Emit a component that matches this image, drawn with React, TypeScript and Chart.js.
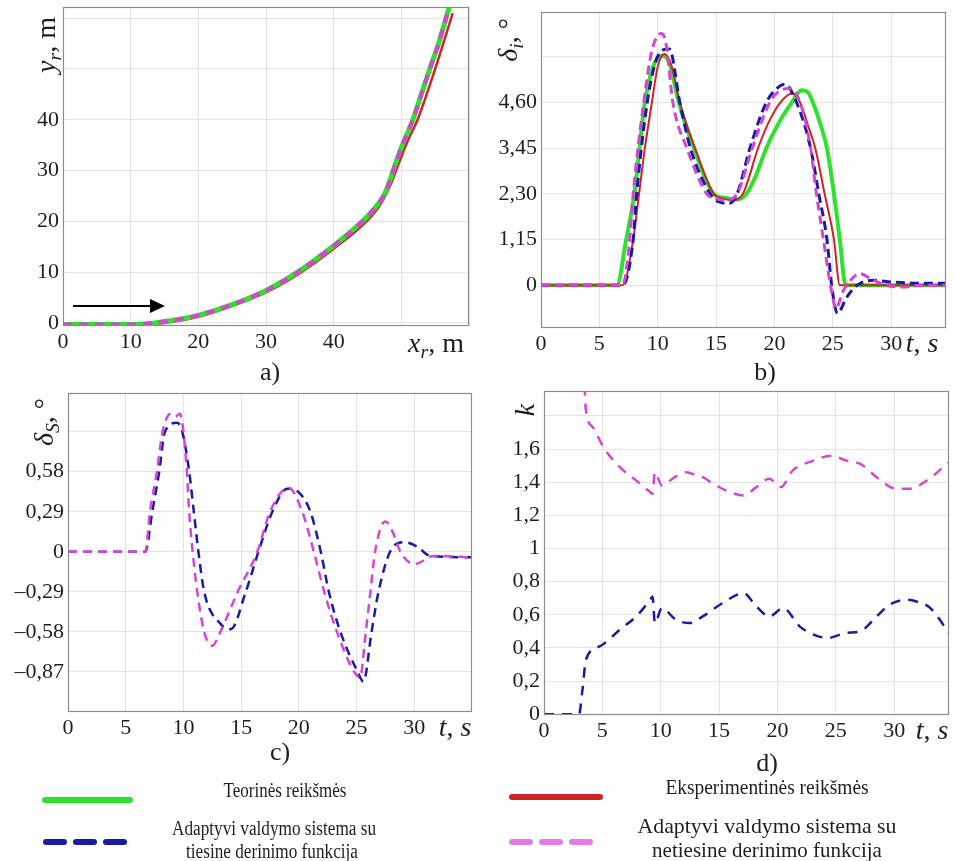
import React, { useEffect, useRef } from 'react';
import { Chart, registerables } from 'chart.js';
Chart.register(...registerables);

type Pt = [number, number];

// ---------- Panel a) trajectory y_r(x_r) ----------
const A_X_TICKS = [0, 10, 20, 30, 40, 50, 60];
const A_X_LABELS = ['0', '10', '20', '30', '40', '', ''];
const A_Y_TICKS = [0, 10, 20, 30, 40, 50, 60];
const A_Y_LABELS = ['0', '10', '20', '30', '40', '', ''];
const A_GREEN: Pt[] = [[0, -0.3], [5, -0.3], [10, -0.3], [13, -0.1], [15, 0.3], [17.5, 0.8], [20, 1.5], [25, 3.6], [30, 6.4], [35, 10.3], [40, 15.2], [43, 18.5], [45, 21], [46.5, 23.3], [47.5, 25.3], [48.3, 28], [49, 30.8], [50, 34.5], [51.7, 40], [53, 45.2], [54.2, 50], [55.5, 55], [56.6, 60], [57.4, 63.5]];
const A_RED: Pt[] = [[0, -0.5], [10, -0.5], [15, 0], [20, 1.2], [25, 3.3], [30, 6.0], [35, 9.8], [40, 14.6], [45, 20.2], [47, 23.5], [48.5, 27.5], [49.5, 31], [51, 36], [52.4, 40], [55, 50], [57.6, 61]];
const A_MAGENTA: Pt[] = [[0, -0.3], [5, -0.3], [10, -0.3], [13, -0.1], [15, 0.3], [17.5, 0.8], [20, 1.5], [25, 3.6], [30, 6.4], [35, 10.3], [40, 15.2], [43, 18.5], [45, 21], [46.5, 23.3], [47.5, 25.3], [48.3, 28], [49, 30.8], [50, 34.5], [51.7, 40], [53, 45.2], [54.2, 50], [55.5, 55], [56.6, 60], [57.4, 63.5]];

// ---------- Panel b) delta_i(t) ----------
const T_TICKS = [0, 5, 10, 15, 20, 25, 30];
const T_LABELS = ['0', '5', '10', '15', '20', '25', '30'];
const B_Y_TICKS = [0, 1.15, 2.3, 3.45, 4.6, 5.75];
const B_Y_LABELS = ['0', '1,15', '2,30', '3,45', '4,60', ''];
const B_GREEN: Pt[] = [[0, 0], [6.5, 0], [7.3, 1.15], [8.0, 2.3], [8.9, 4.6], [9.6, 5.5], [10.3, 5.78], [11.0, 5.6], [11.8, 4.6], [13.1, 3.45], [14.8, 2.3], [15.8, 2.2], [16.8, 2.16], [17.6, 2.3], [18.4, 2.75], [19.3, 3.45], [20.4, 4.1], [21.5, 4.6], [22.3, 4.91], [22.9, 4.85], [23.3, 4.6], [24.0, 4.0], [24.5, 3.45], [25.1, 2.3], [25.6, 1.15], [26.1, 0], [35, 0]];
const B_RED: Pt[] = [[0, 0], [7.0, 0], [7.9, 1.15], [8.4, 2.3], [8.9, 3.45], [9.5, 4.6], [10.0, 5.5], [10.6, 5.82], [11.2, 5.5], [11.9, 4.6], [13.2, 3.45], [14.8, 2.3], [15.6, 2.18], [16.5, 2.14], [17.3, 2.3], [18.6, 3.45], [19.5, 4.1], [20.5, 4.6], [21.5, 4.83], [22.2, 4.6], [22.9, 4.0], [23.5, 3.45], [24.3, 2.3], [25.1, 1.15], [25.6, 0], [35, 0]];
const B_BLUE: Pt[] = [[0, 0], [7.0, 0], [7.9, 1.15], [8.2, 2.3], [9.1, 4.6], [9.8, 5.6], [10.4, 5.92], [11.0, 5.95], [11.9, 4.6], [12.8, 3.45], [14.5, 2.3], [15.2, 2.1], [16.1, 2.06], [16.8, 2.3], [17.9, 3.45], [19.3, 4.6], [20.2, 4.95], [20.9, 5.06], [21.9, 4.6], [23.1, 3.45], [23.8, 2.3], [24.5, 1.15], [24.9, 0], [25.4, -0.71], [26.2, -0.3], [27.1, 0], [28.5, 0.12], [30, 0.08], [32, 0.05], [35, 0.05]];
const B_MAGENTA: Pt[] = [[0, 0], [7.0, 0], [7.6, 1.15], [7.9, 2.3], [8.8, 4.6], [9.5, 5.9], [10.3, 6.34], [10.7, 6.1], [11.3, 4.6], [12.5, 3.45], [14.2, 2.3], [15.0, 2.18], [15.8, 2.14], [16.8, 2.3], [18.1, 3.45], [19.6, 4.6], [20.5, 4.9], [21.3, 4.95], [22.2, 4.6], [23.1, 3.45], [23.6, 2.3], [24.2, 1.15], [24.8, 0], [25.3, -0.59], [25.8, -0.2], [26.2, 0], [27.3, 0.29], [28.3, 0.15], [29.5, 0], [31, -0.05], [32.5, 0], [35, 0]];

// ---------- Panel c) delta_S(t) ----------
const C_Y_TICKS = [-0.87, -0.58, -0.29, 0, 0.29, 0.58, 0.87];
const C_Y_LABELS = ['\u20130,87', '\u20130,58', '\u20130,29', '0', '0,29', '0,58', ''];
const C_BLUE: Pt[] = [[0, 0], [6.7, 0], [7.3, 0.29], [7.9, 0.58], [8.4, 0.87], [9.45, 0.935], [9.9, 0.87], [10.5, 0.58], [10.9, 0.29], [11.3, 0], [11.8, -0.29], [13.2, -0.52], [14.1, -0.56], [15.4, -0.29], [16.5, 0], [17.7, 0.29], [19.0, 0.457], [20.0, 0.43], [21.0, 0.29], [21.9, 0], [22.6, -0.29], [23.6, -0.58], [25.1, -0.87], [25.6, -0.94], [26.3, -0.58], [26.9, -0.29], [27.9, 0], [29.1, 0.07], [30.2, 0.04], [31.4, -0.03], [35, -0.04]];
const C_MAGENTA: Pt[] = [[0, 0], [6.7, 0], [7.1, 0.29], [7.7, 0.58], [8.2, 0.87], [8.9, 1.0], [9.3, 0.98], [9.7, 1.0], [10.0, 0.87], [10.3, 0.58], [10.5, 0.29], [10.8, 0], [11.2, -0.29], [11.8, -0.58], [12.5, -0.68], [13.2, -0.58], [14.7, -0.29], [16.4, 0], [17.5, 0.29], [19.1, 0.464], [20.3, 0.29], [21.3, 0], [22.2, -0.29], [23.3, -0.58], [24.8, -0.87], [25.3, -0.91], [25.8, -0.58], [26.2, -0.29], [26.6, 0], [27.5, 0.22], [28.1, 0.15], [28.8, 0], [30, -0.09], [31.7, -0.03], [35, -0.04]];

// ---------- Panel d) k(t) ----------
const D_Y_TICKS = [0, 0.2, 0.4, 0.6, 0.8, 1, 1.2, 1.4, 1.6, 1.8];
const D_Y_LABELS = ['0', '0,2', '0,4', '0,6', '0,8', '1', '1,2', '1,4', '1,6', ''];
const D_BLUE: Pt[] = [[0, 0], [3.0, 0], [3.3, 0.15], [3.6, 0.33], [4.8, 0.41], [6.5, 0.51], [7.9, 0.59], [9.1, 0.69], [9.3, 0.71], [9.5, 0.55], [10.1, 0.64], [11.3, 0.57], [12.5, 0.55], [13.6, 0.59], [15.3, 0.67], [17.1, 0.73], [18.2, 0.65], [19.3, 0.59], [20.5, 0.64], [21.9, 0.53], [23.1, 0.48], [24.3, 0.46], [25.9, 0.49], [27.1, 0.5], [28.5, 0.59], [29.6, 0.66], [31.1, 0.69], [31.9, 0.68], [33.1, 0.64], [34.7, 0.49]];
const D_MAGENTA: Pt[] = [[3.45, 2.2], [3.5, 1.96], [3.6, 1.83], [4.2, 1.73], [5.1, 1.61], [6.5, 1.49], [7.9, 1.41], [9.1, 1.34], [9.3, 1.33], [9.5, 1.46], [10.1, 1.38], [11.2, 1.43], [12.2, 1.46], [13.1, 1.44], [13.6, 1.43], [14.5, 1.39], [15.6, 1.35], [17.1, 1.32], [18.2, 1.37], [19.3, 1.42], [20.3, 1.37], [21.3, 1.47], [23.1, 1.53], [24.6, 1.56], [25.9, 1.53], [27.1, 1.51], [28.5, 1.43], [30.2, 1.36], [31.3, 1.36], [32.8, 1.41], [34.7, 1.52]];

const GREEN = '#2fe02f';
const RED = '#d02424';
const BLUE = '#1a1aa6';
const MAGENTA = '#d445d4';
const LEGEND_PINK = '#e27be2';

const SERIF = '"Liberation Serif", "Times New Roman", serif';

type Series = { data: Pt[]; color: string; width: number; dash?: number[] };
type Panel = {
  left: number; top: number; plotW: number; plotH: number;
  yw: number; xh: number; pt: number; pr: number;
  xMin: number; xMax: number; yMin: number; yMax: number;
  xTicks: number[]; xLabels: string[]; yTicks: number[]; yLabels: string[];
  series: Series[]; // first entry is drawn on top
};

const framePlugin = {
  id: 'frame',
  afterDraw(chart: any) {
    const { ctx, chartArea } = chart;
    ctx.save();
    ctx.strokeStyle = '#8c8c8c';
    ctx.lineWidth = 1.2;
    ctx.strokeRect(Math.round(chartArea.left) + 0.5, Math.round(chartArea.top) + 0.5,
      Math.round(chartArea.right - chartArea.left) - 1, Math.round(chartArea.bottom - chartArea.top) - 1);
    ctx.restore();
  },
};

function ChartPanel({ p }: { p: Panel }) {
  const ref = useRef<HTMLCanvasElement>(null);
  useEffect(() => {
    if (!ref.current) return;
    const font = { family: SERIF, size: 22 };
    const chart = new Chart(ref.current, {
      type: 'line',
      data: {
        datasets: p.series.map((s) => ({
          data: s.data.map(([x, y]) => ({ x, y })),
          borderColor: s.color,
          borderWidth: s.width,
          borderDash: s.dash || [],
          pointRadius: 0,
          fill: false,
          cubicInterpolationMode: 'monotone',
          borderCapStyle: 'butt',
          borderJoinStyle: 'round',
        })),
      } as any,
      options: {
        responsive: false,
        animation: false,
        devicePixelRatio: 1,
        events: [],
        layout: { padding: { top: p.pt, right: p.pr, left: 0, bottom: 0 } },
        plugins: { legend: { display: false }, tooltip: { enabled: false } },
        scales: {
          x: {
            type: 'linear',
            min: p.xMin,
            max: p.xMax,
            afterBuildTicks: (ax: any) => { ax.ticks = p.xTicks.map((v) => ({ value: v })); },
            afterFit: (ax: any) => { ax.height = p.xh; },
            ticks: {
              autoSkip: false, maxRotation: 0, padding: 3, color: '#1e1e1e', font,
              callback: (_v: any, i: number) => p.xLabels[i],
            },
            grid: { color: '#e3e3e3', lineWidth: 1, drawTicks: false, tickLength: 0 },
            border: { display: false },
          },
          y: {
            type: 'linear',
            min: p.yMin,
            max: p.yMax,
            afterBuildTicks: (ax: any) => { ax.ticks = p.yTicks.map((v) => ({ value: v })); },
            afterFit: (ax: any) => { ax.width = p.yw; },
            ticks: {
              autoSkip: false, padding: 4, color: '#1e1e1e', font,
              callback: (_v: any, i: number) => p.yLabels[i],
            },
            grid: { color: '#e3e3e3', lineWidth: 1, drawTicks: false, tickLength: 0 },
            border: { display: false },
          },
        },
      } as any,
      plugins: [framePlugin],
    });
    return () => chart.destroy();
  }, [p]);
  const w = p.plotW + p.yw + p.pr;
  const h = p.plotH + p.pt + p.xh;
  return (
    <canvas ref={ref} width={w} height={h}
      style={{ position: 'absolute', left: p.left - p.yw, top: p.top - p.pt, width: w, height: h }} />
  );
}

const PT = 18;

const PANELS: Panel[] = [
  {
    left: 63, top: 7, plotW: 406, plotH: 319, yw: 60, xh: 32, pt: PT, pr: 4,
    xMin: 0, xMax: 60, yMin: -0.6, yMax: 62.2,
    xTicks: A_X_TICKS, xLabels: A_X_LABELS, yTicks: A_Y_TICKS, yLabels: A_Y_LABELS,
    series: [
      { data: A_MAGENTA, color: MAGENTA, width: 4, dash: [9, 7] },
      { data: A_GREEN, color: GREEN, width: 5 },
      { data: A_RED, color: RED, width: 2.5 },
    ],
  },
  {
    left: 541, top: 12, plotW: 405, plotH: 316, yw: 70, xh: 32, pt: PT, pr: 4,
    xMin: 0, xMax: 34.7, yMin: -1.08, yMax: 6.88,
    xTicks: T_TICKS, xLabels: T_LABELS, yTicks: B_Y_TICKS, yLabels: B_Y_LABELS,
    series: [
      { data: B_MAGENTA, color: MAGENTA, width: 3, dash: [9, 5] },
      { data: B_BLUE, color: BLUE, width: 3, dash: [9, 5] },
      { data: B_RED, color: RED, width: 2 },
      { data: B_GREEN, color: GREEN, width: 4 },
    ],
  },
  {
    left: 68, top: 393, plotW: 404, plotH: 319, yw: 66, xh: 32, pt: PT, pr: 4,
    xMin: 0, xMax: 35, yMin: -1.16, yMax: 1.15,
    xTicks: T_TICKS, xLabels: T_LABELS, yTicks: C_Y_TICKS, yLabels: C_Y_LABELS,
    series: [
      { data: C_MAGENTA, color: MAGENTA, width: 2.5, dash: [9, 6] },
      { data: C_BLUE, color: BLUE, width: 2.5, dash: [9, 6] },
    ],
  },
  {
    left: 544, top: 391, plotW: 405, plotH: 324, yw: 68, xh: 32, pt: PT, pr: 4,
    xMin: 0, xMax: 34.7, yMin: -0.005, yMax: 1.95,
    xTicks: T_TICKS, xLabels: T_LABELS, yTicks: D_Y_TICKS, yLabels: D_Y_LABELS,
    series: [
      { data: D_MAGENTA, color: MAGENTA, width: 2.5, dash: [10, 8] },
      { data: D_BLUE, color: BLUE, width: 2.5, dash: [10, 8] },
    ],
  },
];

function Txt({ x, y, size, rotate, sx, children }: { x: number; y: number; size: number; rotate?: boolean; sx?: number; children: any }) {
  return (
    <div style={{
      position: 'absolute', left: x, top: y, fontFamily: SERIF, fontSize: size, color: '#1e1e1e',
      whiteSpace: 'nowrap', lineHeight: 1,
      transform: `translate(-50%, -50%)${rotate ? ' rotate(-90deg)' : ''}${sx ? ` scaleX(${sx})` : ''}`,
    }}>{children}</div>
  );
}

const sub = { fontSize: '0.7em', verticalAlign: '-0.3em' } as const;

export default function App() {
  return (
    <div style={{ position: 'absolute', left: 0, top: 0, width: 954, height: 861, background: '#fff', overflow: 'hidden' }}>
      {PANELS.map((p, i) => <ChartPanel key={i} p={p} />)}

      {/* arrow in panel a */}
      <svg width={954} height={861} style={{ position: 'absolute', left: 0, top: 0, pointerEvents: 'none' }}>
        <line x1={73} y1={306} x2={152} y2={306} stroke="#000" strokeWidth={2} />
        <polygon points="150,299 165,306 150,313" fill="#000" />
        {/* legend samples */}
        <line x1={45} y1={800} x2={130} y2={800} stroke={GREEN} strokeWidth={6} strokeLinecap="round" />
        <line x1={46} y1={842} x2={130} y2={842} stroke={BLUE} strokeWidth={6} strokeLinecap="round" strokeDasharray="18 12" />
        <line x1={512} y1={797} x2={600} y2={797} stroke={RED} strokeWidth={6} strokeLinecap="round" />
        <line x1={512} y1={842} x2={600} y2={842} stroke={LEGEND_PINK} strokeWidth={6} strokeLinecap="round" strokeDasharray="18 12" />
      </svg>

      {/* axis titles */}
      <Txt x={48} y={45} size={28} rotate><i>y</i><i style={sub}>r</i>, m</Txt>
      <Txt x={436} y={345} size={28}><i>x</i><i style={sub}>r</i>, m</Txt>
      <Txt x={270} y={372} size={26}>a)</Txt>

      <Txt x={510} y={40} size={28} rotate><i>δ</i><i style={sub}>i</i>, °</Txt>
      <Txt x={922} y={343} size={28}><i>t</i>, <i>s</i></Txt>
      <Txt x={765} y={372} size={26}>b)</Txt>

      <Txt x={46} y={422} size={28} rotate><i>δ</i><i style={sub}>S</i>, °</Txt>
      <Txt x={455} y={727} size={28}><i>t</i>, <i>s</i></Txt>
      <Txt x={280} y={752} size={26}>c)</Txt>

      <Txt x={525} y={410} size={28} rotate><i>k</i></Txt>
      <Txt x={932} y={730} size={28}><i>t</i>, <i>s</i></Txt>
      <Txt x={767} y={763} size={26}>d)</Txt>

      {/* legend texts */}
      <Txt x={285} y={790} size={20} sx={0.85}>Teorinės reikšmės</Txt>
      <Txt x={274} y={828} size={20} sx={0.86}>Adaptyvi valdymo sistema su</Txt>
      <Txt x={272} y={851} size={20} sx={0.86}>tiesine derinimo funkcija</Txt>
      <Txt x={767} y={787} size={20} sx={0.97}>Eksperimentinės reikšmės</Txt>
      <Txt x={767} y={826} size={21} sx={1.04}>Adaptyvi valdymo sistema su</Txt>
      <Txt x={767} y={850} size={21} sx={1.0}>netiesine derinimo funkcija</Txt>
    </div>
  );
}
